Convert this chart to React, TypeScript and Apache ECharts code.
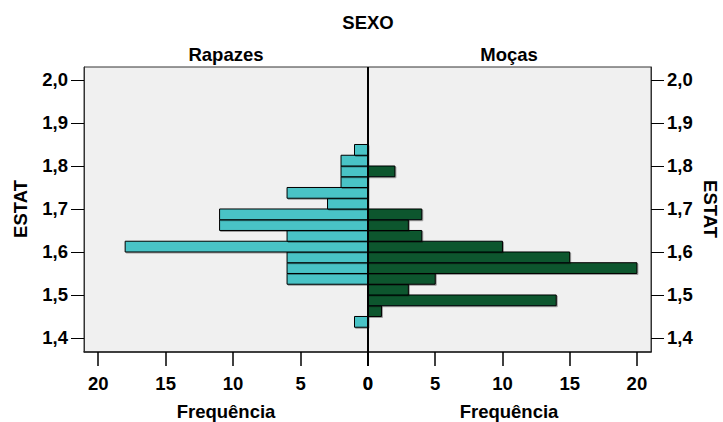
import React, { useEffect, useRef } from "react";
import * as echarts from "echarts";

// Histogram bins (lower edges of ESTAT classes, width 0.025)
const binLow = [1.425, 1.45, 1.475, 1.5, 1.525, 1.55, 1.575, 1.6, 1.625, 1.65, 1.675, 1.7, 1.725, 1.75, 1.775, 1.8, 1.825];
const binWidth = 0.025;
const rapazes = [1, 0, 0, 0, 6, 6, 6, 18, 6, 11, 11, 3, 6, 2, 2, 2, 1];
const mocas = [0, 1, 14, 3, 5, 20, 15, 10, 4, 3, 4, 0, 0, 0, 2, 0, 0];
const yTicks = [1.4, 1.5, 1.6, 1.7, 1.8, 1.9, 2.0];
const xTicks = [0, 5, 10, 15, 20];
const groupNames = ["Rapazes", "Moças"];
const yName = "ESTAT";
const xName = "Frequência";
const panelTitle = "SEXO";

const FONT = "'Liberation Sans', Arial, sans-serif";
const FS = 18.5;

function buildData(counts: number[]) {
  return binLow
    .map((lo, i) => [lo, lo + binWidth, counts[i]])
    .filter((d) => d[2] > 0);
}

function renderBar(fill: string) {
  return (params: any, api: any) => {
    const lo = api.value(0);
    const hi = api.value(1);
    const c = api.value(2);
    const p0 = api.coord([0, lo]);
    const p1 = api.coord([c, hi]);
    const x = Math.min(p0[0], p1[0]);
    const y = Math.min(p0[1], p1[1]);
    return {
      type: "rect",
      shape: { x, y, width: Math.abs(p1[0] - p0[0]), height: Math.abs(p1[1] - p0[1]) },
      style: {
        fill,
        stroke: "#000",
        lineWidth: 1,
        shadowColor: "rgba(0,0,0,0.35)",
        shadowOffsetX: 1,
        shadowOffsetY: 1,
        shadowBlur: 1,
      },
    };
  };
}

export default function App() {
  const ref = useRef<HTMLDivElement>(null);
  useEffect(() => {
    if (!ref.current) return;
    const chart = echarts.init(ref.current, undefined, { renderer: "svg" });
    const top = 67;
    const height = 285;
    const yMin = 1.3674;
    const yMax = 2.0302;
    const xMax = 21.05;
    const labelStyle = { color: "#000", fontFamily: FONT, fontWeight: "bold" as const, fontSize: FS };
    const yFmt = (v: number) => v.toFixed(1).replace(".", ",");
    const mkY = (gridIndex: number, position: "left" | "right") => ({
      type: "value",
      gridIndex,
      position,
      min: yMin,
      max: yMax,
      axisLine: { show: true, onZero: false, lineStyle: { color: "#333", width: 1 } },
      axisTick: { show: true, length: 13, lineStyle: { color: "#000", width: 1 }, customValues: yTicks },
      axisLabel: { ...labelStyle, margin: 16, formatter: yFmt, customValues: yTicks },
      splitLine: { show: false },
    });
    const mkX = (gridIndex: number, inverse: boolean) => ({
      type: "value",
      gridIndex,
      inverse,
      min: 0,
      max: xMax,
      position: "bottom",
      axisLine: { show: true, onZero: false, lineStyle: { color: "#222", width: 1.5 } },
      axisTick: { show: true, inside: false, length: 14, lineStyle: { color: "#000", width: 1.5 }, customValues: xTicks },
      axisLabel: { ...labelStyle, margin: 22, customValues: xTicks },
      splitLine: { show: false },
    });
    const text = (x: number, y: number, t: string, rotation = 0) => ({
      type: "text",
      x,
      y,
      rotation,
      style: {
        text: t,
        fill: "#000",
        font: `bold ${FS}px ${FONT}`,
        align: "center",
        verticalAlign: "middle",
      },
    });
    chart.setOption({
      animation: false,
      backgroundColor: "#fff",
      grid: [
        { left: 84, top, width: 284, height, show: true, backgroundColor: "#f0f0f0", borderColor: "#333", borderWidth: 1 },
        { left: 368, top, width: 283, height, show: true, backgroundColor: "#f0f0f0", borderColor: "#333", borderWidth: 1 },
      ],
      xAxis: [mkX(0, true), mkX(1, false)],
      yAxis: [mkY(0, "left"), mkY(1, "right")],
      series: [
        {
          type: "custom",
          xAxisIndex: 0,
          yAxisIndex: 0,
          data: buildData(rapazes),
          encode: { x: 2, y: [0, 1] },
          renderItem: renderBar("#48c3c6"),
          z: 3,
        },
        {
          type: "custom",
          xAxisIndex: 1,
          yAxisIndex: 1,
          data: buildData(mocas),
          encode: { x: 2, y: [0, 1] },
          renderItem: renderBar("#0b572e"),
          z: 3,
        },
      ],
      graphic: [
        text(368, 22, panelTitle),
        text(226, 54, groupNames[0]),
        text(509, 54, groupNames[1]),
        text(226, 411, xName),
        text(509, 411, xName),
        text(20, 209, yName, Math.PI / 2),
        text(710, 209, yName, -Math.PI / 2),
        {
          type: "line",
          shape: { x1: 368, y1: top, x2: 368, y2: top + height + 14 },
          style: { stroke: "#000", lineWidth: 2 },
          z: 100,
        },
      ],
    });
    return () => chart.dispose();
  }, []);
  return <div ref={ref} style={{ position: "fixed", left: 0, top: 0, width: 723, height: 422 }} />;
}
